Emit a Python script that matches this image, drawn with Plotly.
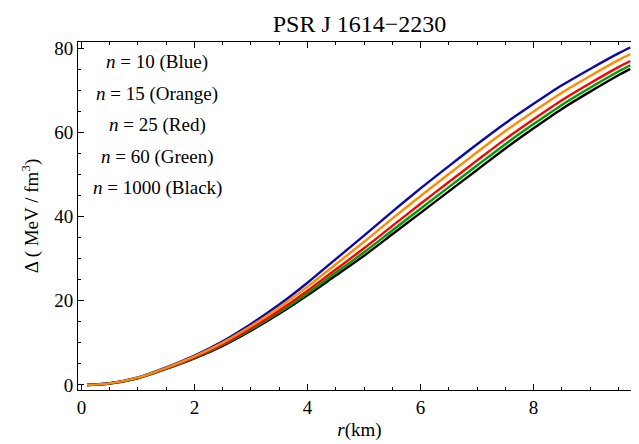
import plotly.graph_objects as go

r_km = [0.1, 0.5, 1.0, 1.5, 2.0, 2.5, 3.0, 3.5, 4.0, 4.5, 5.0, 5.5, 6.0, 6.5, 7.0, 7.5, 8.0, 8.5, 9.0, 9.5, 9.71]

delta_n10 = [0, 0.4, 1.8, 4.2, 7.0, 10.4, 14.5, 19.1, 24.3, 29.9, 35.5, 41.2, 46.7, 52.0, 57.2, 62.2, 66.8, 71.2, 75.1, 78.8, 80.2]
delta_n15 = [0, 0.38, 1.74, 4.08, 6.78, 10.06, 14.0, 18.42, 23.37, 28.69, 34.01, 39.53, 44.9, 50.14, 55.31, 60.34, 65.0, 69.46, 73.43, 77.19, 78.62]
delta_n25 = [0, 0.37, 1.67, 3.95, 6.56, 9.71, 13.49, 17.71, 22.41, 27.44, 32.48, 37.8, 43.05, 48.22, 53.36, 58.42, 63.15, 67.67, 71.7, 75.52, 76.99]
delta_n60 = [0, 0.36, 1.63, 3.87, 6.42, 9.49, 13.17, 17.27, 21.81, 26.66, 31.52, 36.72, 41.89, 47.02, 52.14, 57.22, 61.99, 66.55, 70.62, 74.48, 75.97]
delta_n1000 = [0, 0.35, 1.6, 3.8, 6.3, 9.3, 12.9, 16.9, 21.3, 26.0, 30.7, 35.8, 40.9, 46.0, 51.1, 56.2, 61.0, 65.6, 69.7, 73.6, 75.1]

legend_lines = ["<i>n</i> = 10 (Blue)", "<i>n</i> = 15 (Orange)", "<i>n</i> = 25 (Red)",
                "<i>n</i> = 60 (Green)", "<i>n</i> = 1000 (Black)"]

series = [
    ("n=1000", delta_n1000, "#000000"),
    ("n=60", delta_n60, "#009a00"),
    ("n=25", delta_n25, "#ff0000"),
    ("n=10", delta_n10, "#0a0aa8"),
    ("n=15", delta_n15, "#ff8c00"),
]

FONT = "Liberation Serif"

L, R, T, B = 70, 6, 34, 62
W, H = 639, 444
pw, ph = W - L - R, H - T - B

fig = go.Figure()
for name, ys, col in series:
    fig.add_trace(go.Scatter(x=r_km, y=ys, mode="lines", name=name,
                             line=dict(color=col, width=2.4, shape="spline", smoothing=0.8),
                             showlegend=False))

for i, txt in enumerate(legend_lines):
    px, py = 149, 54 + 31.5 * i
    fig.add_annotation(x=(px - L) / pw, y=1 - (py - T) / ph, xref="paper", yref="paper", text=txt,
                       showarrow=False, font=dict(family=FONT, size=19, color="black"),
                       xanchor="center", yanchor="middle")

fig.update_layout(
    template="none",
    width=W, height=H,
    margin=dict(l=L, r=R, t=T, b=B),
    plot_bgcolor="white", paper_bgcolor="white",
    showlegend=False,
    font=dict(family=FONT, size=18, color="black"),
    title=dict(text="PSR J 1614\u22122230", x=(L + (W - R)) / 2 / W, xanchor="center",
               y=1 - 16 / H, yanchor="middle", font=dict(family=FONT, size=24, color="black")),
    xaxis=dict(range=[-0.06, 9.9], tickvals=[0, 2, 4, 6, 8], ticks="inside", ticklen=6,
               tickcolor="black", showline=True, linecolor="black", linewidth=1, mirror="ticks",
               showgrid=False, zeroline=False, automargin=False,
               minor=dict(ticks="inside", dtick=0.5, ticklen=3, tickcolor="black", showgrid=False),
               title=dict(text="<i>r</i>(km)", font=dict(family=FONT, size=19), standoff=5),
               tickfont=dict(family=FONT, size=19)),
    yaxis=dict(range=[-1.2, 81.5], tickvals=[0, 20, 40, 60, 80], ticks="inside", ticklen=6,
               tickcolor="black", showline=True, linecolor="black", linewidth=1, mirror="ticks",
               showgrid=False, zeroline=False, automargin=False,
               minor=dict(ticks="inside", dtick=5, ticklen=3, tickcolor="black", showgrid=False),
               title=dict(text="\u0394 ( MeV / fm<sup>3</sup>)", font=dict(family=FONT, size=19), standoff=10),
               tickfont=dict(family=FONT, size=19)),
)

fig.write_html("out.html")
